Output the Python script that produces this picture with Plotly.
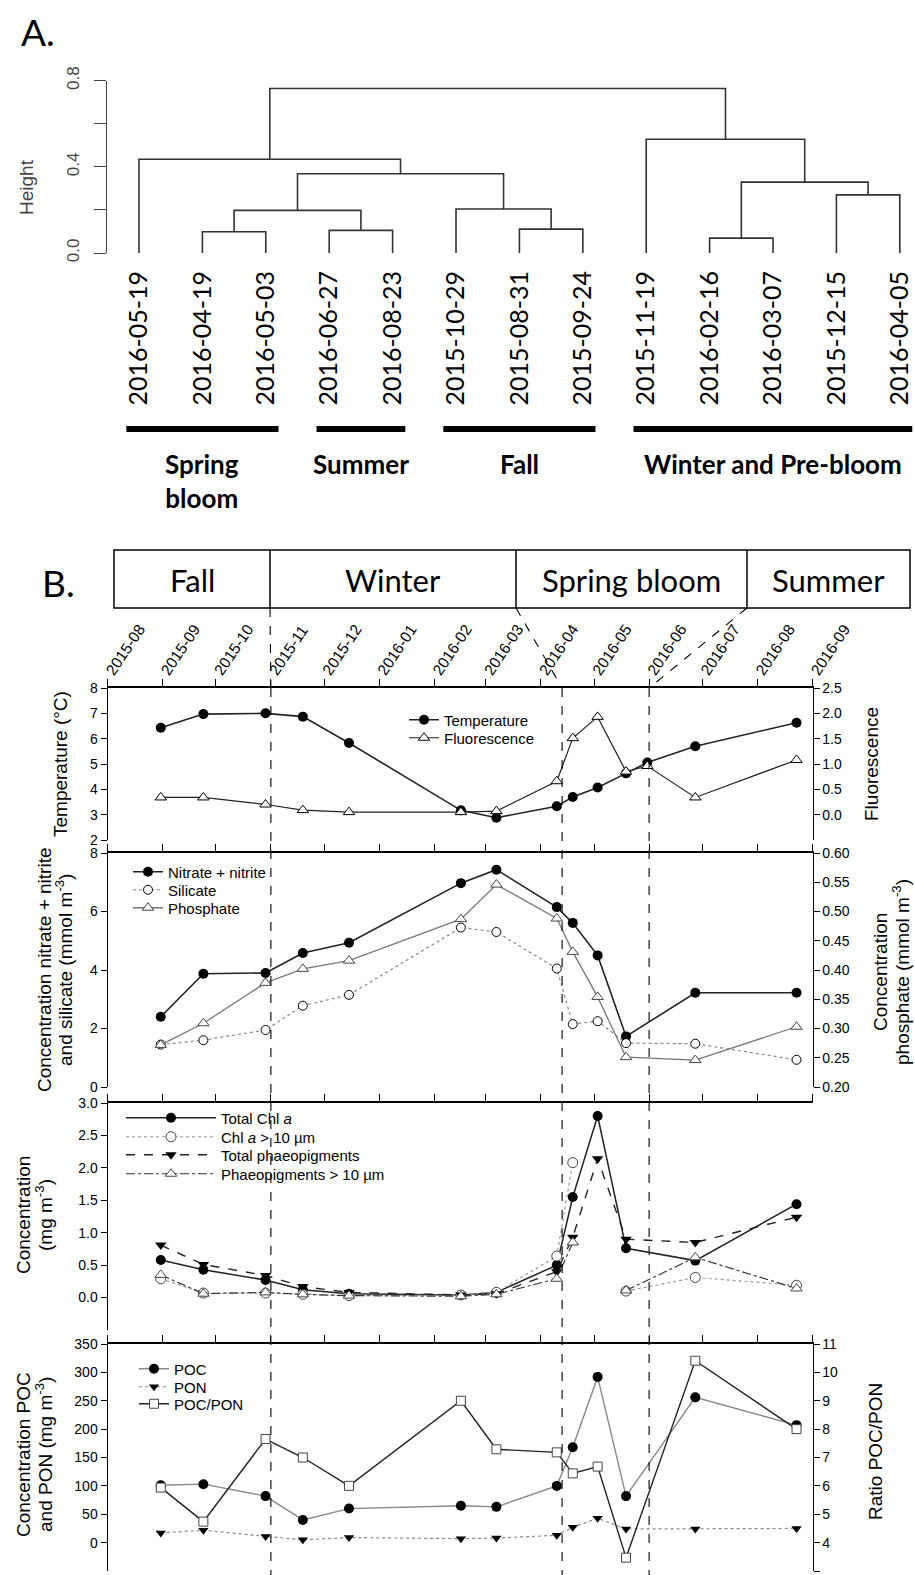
import plotly.graph_objects as go
import pandas as pd

W, H = 915, 1575
FONT = "Liberation Sans, Arial, sans-serif"
CAL = "Lato, sans-serif"


def px_x(p):
    return p / W


def px_y(p):
    return 1 - p / H


# ---------------- Panel A : dendrogram data ----------------
leaf_labels = ["2016-05-19", "2016-04-19", "2016-05-03", "2016-06-27", "2016-08-23",
               "2015-10-29", "2015-08-31", "2015-09-24", "2015-11-19", "2016-02-16",
               "2016-03-07", "2015-12-15", "2016-04-05"]
merge_left = [1, 3, 6, 9, 11, "m0", 5, "m5", 0, "m3", 8, "m8"]
merge_right = [2, 4, 7, 10, 12, "m1", "m2", "m6", "m7", "m4", "m9", "m10"]
merge_height = [0.099, 0.105, 0.111, 0.069, 0.270, 0.198, 0.204, 0.368, 0.435, 0.329, 0.528, 0.764]
height_ticks = [0.0, 0.4, 0.8]
height_ticktext = ["0.0", "0.4", "0.8"]
group_names = ["Spring<br>bloom", "Summer", "Fall", "Winter and Pre-bloom"]
group_first = [0, 3, 5, 8]
group_last = [2, 4, 7, 12]

# ---------------- Panel B data ----------------
season_names = ["Fall", "Winter", "Spring bloom", "Summer"]
season_bounds = ["2015-11-01", "2016-04-13", "2016-06-01"]
month_ticks = ["2015-08-01", "2015-09-01", "2015-10-01", "2015-11-01", "2015-12-01", "2016-01-01",
               "2016-02-01", "2016-03-01", "2016-04-01", "2016-05-01", "2016-06-01", "2016-07-01",
               "2016-08-01", "2016-09-01"]
month_labels = ["2015-08", "2015-09", "2015-10", "2015-11", "2015-12", "2016-01", "2016-02",
                "2016-03", "2016-04", "2016-05", "2016-06", "2016-07", "2016-08", "2016-09"]

dates_tf = ["2015-08-31", "2015-09-24", "2015-10-29", "2015-11-19", "2015-12-15", "2016-02-16",
            "2016-03-07", "2016-04-10", "2016-04-19", "2016-05-03", "2016-05-19", "2016-05-31",
            "2016-06-27", "2016-08-23"]
temperature = [6.43, 6.97, 7.0, 6.87, 5.83, 3.17, 2.88, 3.33, 3.70, 4.07, 4.63, 5.06, 5.70, 6.63]
fluorescence = [0.34, 0.34, 0.20, 0.09, 0.05, 0.05, 0.07, 0.66, 1.51, 1.93, 0.85, 0.96, 0.34, 1.08]

dates = ["2015-08-31", "2015-09-24", "2015-10-29", "2015-11-19", "2015-12-15", "2016-02-16",
         "2016-03-07", "2016-04-10", "2016-04-19", "2016-05-03", "2016-05-19", "2016-06-27",
         "2016-08-23"]
nitrate = [2.4, 3.87, 3.9, 4.58, 4.93, 6.97, 7.43, 6.15, 5.61, 4.5, 1.73, 3.22, 3.22]
silicate = [1.45, 1.6, 1.95, 2.78, 3.15, 5.45, 5.3, 4.05, 2.15, 2.25, 1.5, 1.48, 0.93]
phosphate = [0.272, 0.309, 0.378, 0.402, 0.416, 0.487, 0.546, 0.488, 0.431, 0.354, 0.251, 0.246, 0.303]

chl_total = [0.58, 0.43, 0.27, 0.12, 0.06, 0.04, 0.08, 0.50, 1.55, 2.80, 0.76, 0.57, 1.44]
chl_10 = [0.29, 0.07, 0.07, 0.05, 0.03, 0.04, 0.08, 0.64, 2.08, None, 0.10, 0.31, 0.19]
phaeo_total = [0.81, 0.51, 0.34, 0.17, 0.08, 0.04, 0.06, 0.40, 0.93, 2.14, 0.90, 0.85, 1.24]
phaeo_10 = [0.35, 0.06, 0.08, 0.05, 0.03, 0.02, 0.05, 0.29, 0.85, None, 0.11, 0.62, 0.14]

poc = [101, 103, 82, 40, 60, 65, 63, 100, 168, 292, 82, 256, 207]
pon = [17, 22, 11, 5, 9, 7, 8, 13, 27, 43, 24, 24, 25]
poc_pon = [5.94, 4.74, 7.65, 7.0, 6.0, 9.0, 7.29, 7.18, 6.44, 6.68, 3.47, 10.41, 8.0]

# ---------------- layout constants (pixels) ----------------
X_RANGE = ["2015-08-01", "2016-09-01"]
XDOM = [px_x(107.5), px_x(812.5)]
DOM_TEMP = [px_y(840), px_y(688)]
DOM_NUT = [px_y(1087), px_y(853)]
DOM_CHL = [px_y(1330), px_y(1103)]
DOM_POC = [px_y(1571), px_y(1344)]

fig = go.Figure()

# ---------------- dendrogram ----------------
pos = {i: i + 1 for i in range(len(leaf_labels))}
hgt = {i: 0.0 for i in range(len(leaf_labels))}
seg_x, seg_y = [], []
for k, (a, b, h) in enumerate(zip(merge_left, merge_right, merge_height)):
    seg_x += [pos[a], pos[a], pos[b], pos[b], None]
    seg_y += [hgt[a], h, h, hgt[b], None]
    pos[f"m{k}"] = (pos[a] + pos[b]) / 2
    hgt[f"m{k}"] = h
fig.add_trace(go.Scatter(x=seg_x, y=seg_y, mode="lines", line=dict(color="#333333", width=1.6),
                         showlegend=False, hoverinfo="skip", xaxis="x", yaxis="y"))

# ---------------- Panel B traces ----------------
BLACK = "black"


def add(x, y, name, xa, ya, legend, line, marker):
    fig.add_trace(go.Scatter(x=x, y=y, name=name, mode="lines+markers", xaxis=xa, yaxis=ya,
                             line=line, marker=marker, legend=legend, connectgaps=False,
                             cliponaxis=False))


# temperature / fluorescence
add(dates_tf, temperature, "Temperature", "x2", "y2", "legend",
    dict(color="#222", width=1.6), dict(symbol="circle", size=10, color=BLACK))
add(dates_tf, fluorescence, "Fluorescence", "x2", "y3", "legend2",
    dict(color="#222", width=1.2),
    dict(symbol="triangle-up", size=10, color="white", line=dict(color=BLACK, width=1)))

# nutrients
add(dates, nitrate, "Nitrate + nitrite", "x3", "y4", "legend3",
    dict(color="#222", width=1.6), dict(symbol="circle", size=10, color=BLACK))
add(dates, silicate, "Silicate", "x3", "y4", "legend4",
    dict(color="#888", width=1.2, dash="dot"),
    dict(symbol="circle", size=9, color="white", line=dict(color=BLACK, width=1)))
add(dates, phosphate, "Phosphate", "x3", "y5", "legend5",
    dict(color="#777", width=1.3),
    dict(symbol="triangle-up", size=10, color="white", line=dict(color="#444", width=1)))

# pigments
add(dates, chl_total, "Total Chl <i>a</i>", "x4", "y6", "legend6",
    dict(color="#222", width=1.5), dict(symbol="circle", size=10, color=BLACK))
add(dates, chl_10, "Chl <i>a</i> > 10 µm", "x4", "y6", "legend7",
    dict(color="#999", width=1.2, dash="dot"),
    dict(symbol="circle", size=10, color="white", line=dict(color="#444", width=1)))
add(dates, phaeo_total, "Total phaeopigments", "x4", "y6", "legend8",
    dict(color="#222", width=1.4, dash="dash"),
    dict(symbol="triangle-down", size=10, color=BLACK))
add(dates, phaeo_10, "Phaeopigments > 10 µm", "x4", "y6", "legend9",
    dict(color="#333", width=1.2, dash="dashdot"),
    dict(symbol="triangle-up", size=10, color="white", line=dict(color="#444", width=1)))

# POC / PON
add(dates, poc, "POC", "x5", "y7", "legend10",
    dict(color="#888", width=1.4), dict(symbol="circle", size=10, color=BLACK))
add(dates, pon, "PON", "x5", "y7", "legend11",
    dict(color="#888", width=1.2, dash="dot"), dict(symbol="triangle-down", size=9, color=BLACK))
add(dates, poc_pon, "POC/PON", "x5", "y8", "legend12",
    dict(color="#222", width=1.4),
    dict(symbol="square", size=9, color="white", line=dict(color="#444", width=1)))

# ---------------- axes ----------------
ax_common = dict(showgrid=False, zeroline=False, automargin=False)
tickfont = dict(family=FONT, size=14, color="black")

layout = dict(
    width=W, height=H, margin=dict(l=0, r=0, t=0, b=0),
    paper_bgcolor="white", plot_bgcolor="rgba(0,0,0,0)",
    font=dict(family=FONT, color="black"),
    showlegend=True,
)

# dendrogram axes
layout["xaxis"] = dict(domain=[px_x(107.3), px_x(912.5)], range=[0.5, 13.2], anchor="y",
                       tickmode="array", tickvals=list(range(1, len(leaf_labels) + 1)),
                       ticktext=leaf_labels, tickangle=-90, ticks="", showline=False,
                       tickfont=dict(family=CAL, size=25, color="black"),
                       ticklabelstandoff=12, **ax_common)
layout["yaxis"] = dict(domain=[px_y(253), px_y(80.7)], range=[0, 0.8], anchor="x",
                       tickmode="array", tickvals=height_ticks, ticktext=height_ticktext,
                       ticks="outside", ticklen=12, tickcolor="#444", tickwidth=1.3,
                       minor=dict(dtick=0.2, ticks="outside", ticklen=12, tickcolor="#444",
                                  tickwidth=1.3, showgrid=False),
                       showline=True, linecolor="#444", linewidth=1.3, tickangle=-90,
                       tickfont=dict(family=FONT, size=17, color="#444"),
                       ticklabelstandoff=8, **ax_common)

xbase = dict(type="date", range=X_RANGE, domain=XDOM, side="top", tickmode="array",
             tickvals=month_ticks, ticktext=month_labels, ticks="outside", ticklen=7,
             tickcolor="black", showline=True, linecolor="black", **ax_common)
layout["xaxis2"] = dict(xbase, anchor="y2", linewidth=2, tickangle=-56, showticklabels=True,
                        tickfont=dict(family=FONT, size=15.5, color="black"), ticklabelstandoff=-7)
layout["xaxis3"] = dict(xbase, anchor="y4", linewidth=1.5, showticklabels=False)
layout["xaxis4"] = dict(xbase, anchor="y6", linewidth=1.5, showticklabels=False)
layout["xaxis5"] = dict(xbase, anchor="y7", linewidth=1.5, showticklabels=False)

ybase = dict(ticks="outside", ticklen=6, tickcolor="black", showline=True, linecolor="black",
             linewidth=1, tickfont=tickfont, **ax_common)
layout["yaxis2"] = dict(ybase, domain=DOM_TEMP, range=[2, 8], dtick=1, anchor="x2")
layout["yaxis3"] = dict(ybase, overlaying="y2", side="right", anchor="x2", range=[-0.5, 2.5],
                        tickmode="array", tickvals=[0, 0.5, 1.0, 1.5, 2.0, 2.5], tickformat=".1f")
layout["yaxis4"] = dict(ybase, domain=DOM_NUT, range=[0, 8], dtick=2, anchor="x3")
layout["yaxis5"] = dict(ybase, overlaying="y4", side="right", anchor="x3", range=[0.2, 0.6],
                        dtick=0.05, tickformat=".2f")
layout["yaxis6"] = dict(ybase, domain=DOM_CHL, range=[-0.5, 3.0], anchor="x4", tickmode="array",
                        tickvals=[0, 0.5, 1.0, 1.5, 2.0, 2.5, 3.0], tickformat=".1f")
layout["yaxis7"] = dict(ybase, domain=DOM_POC, range=[-50, 350], anchor="x5", tickmode="array",
                        tickvals=[0, 50, 100, 150, 200, 250, 300, 350])
layout["yaxis8"] = dict(ybase, overlaying="y7", side="right", anchor="x5", range=[3, 11], dtick=1)

# ---------------- legends (one per entry) ----------------
legend_spots = {
    "legend": (404, 720, 30), "legend2": (404, 738, 30),
    "legend3": (128, 872, 30), "legend4": (128, 890, 30), "legend5": (128, 908, 30),
    "legend6": (121, 1118, 90), "legend7": (121, 1137, 90), "legend8": (121, 1155, 90),
    "legend9": (121, 1174, 90),
    "legend10": (134, 1369, 30), "legend11": (134, 1387, 30), "legend12": (134, 1404, 30),
}
for key, (lx, ly, iw) in legend_spots.items():
    layout[key] = dict(x=px_x(lx), y=px_y(ly), xanchor="left", yanchor="middle",
                       bgcolor="rgba(0,0,0,0)", borderwidth=0, itemwidth=iw,
                       font=dict(family=FONT, size=15, color="black"))

fig.update_layout(**layout)

# ---------------- shapes ----------------
shapes = []
# group bars under dendrogram
for f, l in zip(group_first, group_last):
    shapes.append(dict(type="line", xref="x", yref="paper", x0=f + 1 - 0.2, x1=l + 1 + 0.2,
                       y0=px_y(429), y1=px_y(429), line=dict(color="black", width=6)))

# season box
BOX = dict(x0=114, x1=910, y0=550, y1=608)
DIVIDERS = [270, 516, 747]
shapes.append(dict(type="rect", xref="paper", yref="paper", x0=px_x(BOX["x0"]), x1=px_x(BOX["x1"]),
                   y0=px_y(BOX["y1"]), y1=px_y(BOX["y0"]), line=dict(color="black", width=1.5)))
for d in DIVIDERS:
    shapes.append(dict(type="line", xref="paper", yref="paper", x0=px_x(d), x1=px_x(d),
                       y0=px_y(BOX["y0"]), y1=px_y(BOX["y1"]), line=dict(color="black", width=1.5)))

r0, r1 = pd.Timestamp(X_RANGE[0]), pd.Timestamp(X_RANGE[1])


def date_to_paper(d):
    f = (pd.Timestamp(d) - r0) / (r1 - r0)
    return XDOM[0] + f * (XDOM[1] - XDOM[0])


dash = dict(color="black", width=1.1, dash="dash")
AXIS_TOP = 688
for d, div in zip(season_bounds, DIVIDERS):
    shapes.append(dict(type="line", xref="paper", yref="paper", x0=px_x(div), y0=px_y(BOX["y1"]),
                       x1=date_to_paper(d), y1=px_y(AXIS_TOP), line=dash))
    shapes.append(dict(type="line", xref="x2", yref="paper", x0=d, x1=d,
                       y0=px_y(AXIS_TOP), y1=0, line=dash))
fig.update_layout(shapes=shapes)

# ---------------- annotations ----------------
ann = []


def text(x, y, s, size, family=FONT, angle=0, color="black", xref="paper", xa="center", ya="middle"):
    ann.append(dict(x=x, y=y, xref=xref, yref="paper", text=s, showarrow=False, textangle=angle,
                    xanchor=xa, yanchor=ya, font=dict(family=family, size=size, color=color)))


text(px_x(38), px_y(32), "A.", 37, CAL)
text(px_x(58), px_y(582), "B.", 37, CAL)
text(px_x(27), px_y(187), "Height", 19, FONT, -90, "#444")

for f, l, g in zip(group_first, group_last, group_names):
    yy = 481 if "<br>" in g else 464
    text((f + l) / 2 + 1, px_y(yy), f"<b>{g}</b>", 26, CAL, xref="x")

season_centers = [(BOX["x0"] + DIVIDERS[0]) / 2, (DIVIDERS[0] + DIVIDERS[1]) / 2,
                  (DIVIDERS[1] + DIVIDERS[2]) / 2, (DIVIDERS[2] + BOX["x1"]) / 2]
for cx, s in zip(season_centers, season_names):
    text(px_x(cx), px_y(580), s, 31, CAL)

# axis titles
text(px_x(61), px_y(764), "Temperature (°C)", 19, FONT, -90)
text(px_x(872), px_y(764), "Fluorescence", 19, FONT, -90)
text(px_x(44), px_y(970), "Concentration nitrate + nitrite", 19, FONT, -90)
text(px_x(64), px_y(970), "and silicate (mmol m<sup>-3</sup>)", 19, FONT, -90)
text(px_x(881), px_y(972), "Concentration", 19, FONT, -90)
text(px_x(901), px_y(972), "phosphate (mmol m<sup>-3</sup>)", 19, FONT, -90)
text(px_x(23), px_y(1215), "Concentration", 19, FONT, -90)
text(px_x(44), px_y(1215), "(mg m<sup>-3</sup>)", 19, FONT, -90)
text(px_x(23), px_y(1455), "Concentration POC", 19, FONT, -90)
text(px_x(44), px_y(1455), "and PON (mg m<sup>-3</sup>)", 19, FONT, -90)
text(px_x(875), px_y(1452), "Ratio POC/PON", 19, FONT, -90)

fig.update_layout(annotations=ann)

fig.write_html("out.html")
